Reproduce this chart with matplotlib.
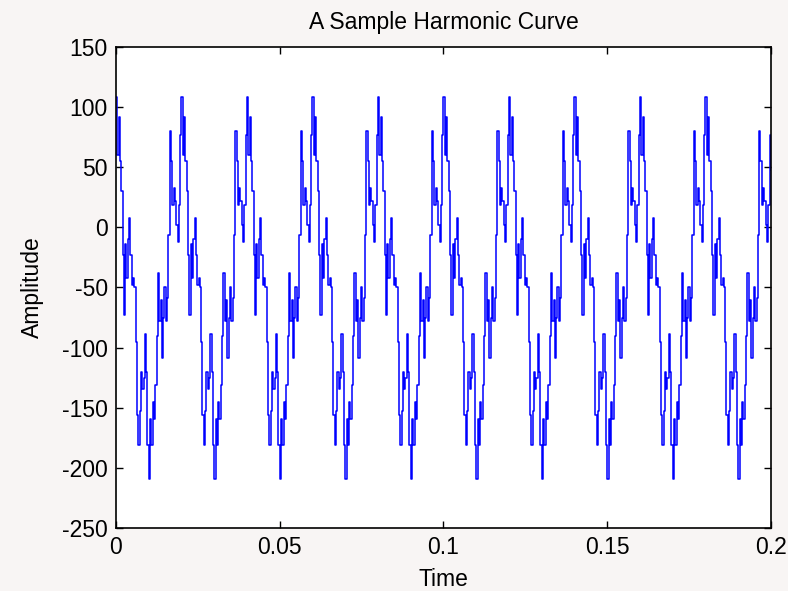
import numpy as np
import matplotlib
matplotlib.use("Agg")
import matplotlib.pyplot as plt

plt.rcParams.update({
    "font.family": ["Liberation Sans", "DejaVu Sans"],
    "font.size": 16.5,
    "axes.unicode_minus": False,
})

# one period (0.02 s) of the curve at 0.4 ms steps
period_amp = [
    108, 60, 92, 55, 30, -23, -73, -14, -42, -10,
    8, -23, -48, -42, -50, -95, -156, -181, -153, -120,
    -134, -125, -89, -120, -181, -209, -159, -181, -145, -159,
    -131, -90, -38, -78, -60, -109, -75, -50, -78, -59,
    -6, 80, 55, 19, 33, 22, 2, -12, 19, 77,
]
n_periods = 10
dt = 0.0004
end_value = 48

amplitude = np.append(np.tile(period_amp, n_periods), end_value)
time = np.arange(len(amplitude)) * dt

x_ticks = [0, 0.05, 0.1, 0.15, 0.2]
x_tick_labels = ["0", "0.05", "0.1", "0.15", "0.2"]
y_ticks = [-250, -200, -150, -100, -50, 0, 50, 100, 150]

bg = "#f8f5f4"
fig = plt.figure(figsize=(7.88, 5.91), dpi=100, facecolor=bg)
ax = fig.add_axes([0.1472, 0.1066, 0.8312, 0.8139])

ax.plot(time, amplitude, color="#0000ff", linewidth=1.1, drawstyle="steps-post")

ax.set_xlim(0, 0.2)
ax.set_ylim(-250, 150)
ax.set_xticks(x_ticks)
ax.set_xticklabels(x_tick_labels)
ax.set_yticks(y_ticks)
ax.tick_params(direction="in", length=5, width=1.0, top=True, right=True, pad=6)
for s in ax.spines.values():
    s.set_linewidth(1.2)

ax.set_title("A Sample Harmonic Curve", fontsize=16.5, pad=13)
ax.set_xlabel("Time", labelpad=6)
ax.set_ylabel("Amplitude", labelpad=13)

fig.savefig("out.png", dpi=100, facecolor=bg)
